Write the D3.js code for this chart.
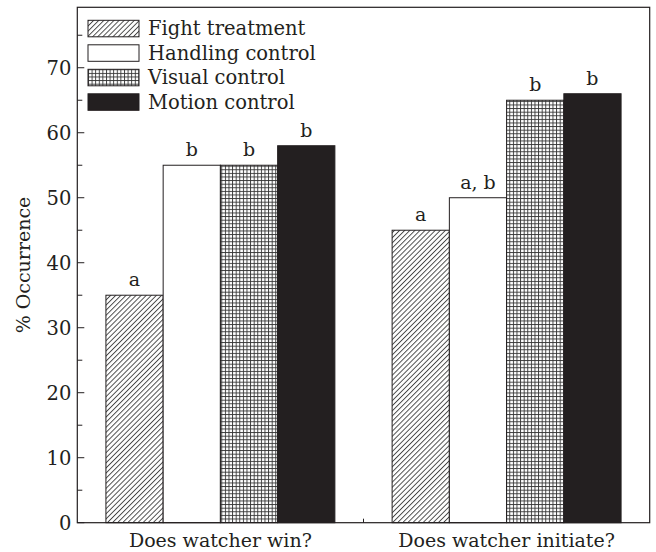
<!DOCTYPE html>
<html>
<head>
<meta charset="utf-8">
<script src="https://cdn.jsdelivr.net/npm/d3@7"></script>
<style>
  body { margin: 0; background: #fff; }
  text { font-family: "DejaVu Serif", "Liberation Serif", serif; fill: #231f20; }
</style>
</head>
<body>
<div id="chart"></div>
<script>
// data
const groups = ['Does watcher win?', 'Does watcher initiate?'];
const seriesNames = ['Fight treatment', 'Handling control', 'Visual control', 'Motion control'];
const fightValues = [35, 45];
const handlingValues = [55, 50];
const visualValues = [55, 65];
const motionValues = [58, 66];
const fightLetters = ['a', 'a'];
const handlingLetters = ['b', 'a, b'];
const visualLetters = ['b', 'b'];
const motionLetters = ['b', 'b'];
const yTicks = [0, 10, 20, 30, 40, 50, 60, 70];

const width = 656;
const height = 552;
const margin = {top: 7.3, right: 6.3, bottom: 29.3, left: 77.3};
const innerW = width - margin.left - margin.right;
const innerH = height - margin.top - margin.bottom;
const ink = '#231f20';

const seriesValues = [fightValues, handlingValues, visualValues, motionValues];
const seriesLetters = [fightLetters, handlingLetters, visualLetters, motionLetters];
const fills = ['url(#hatch)', '#fff', 'url(#grid)', ink];

let svg = d3.select('#chart')
  .append('svg')
  .attr('width', width)
  .attr('height', height);

// fill patterns
let defs = svg.append('defs');
let hatch = defs.append('pattern')
  .attr('id', 'hatch')
  .attr('patternUnits', 'userSpaceOnUse')
  .attr('width', 3.6)
  .attr('height', 10)
  .attr('patternTransform', 'rotate(45)');
hatch.append('rect').attr('width', 3.6).attr('height', 10).attr('fill', '#fff');
hatch.append('line')
  .attr('x1', 0.5).attr('x2', 0.5).attr('y1', 0).attr('y2', 10)
  .attr('stroke', '#333').attr('stroke-width', 0.9);

let grid = defs.append('pattern')
  .attr('id', 'grid')
  .attr('patternUnits', 'userSpaceOnUse')
  .attr('width', 3.6)
  .attr('height', 3.6);
grid.append('rect').attr('width', 3.6).attr('height', 3.6).attr('fill', '#fff');
grid.append('path')
  .attr('d', 'M0,0.5H3.6M0.5,0V3.6')
  .attr('stroke', '#333').attr('stroke-width', 0.9);

let g = svg.append('g')
  .attr('transform', `translate(${margin.left},${margin.top})`);

let x0 = d3.scaleBand().domain(groups).range([0, innerW]).paddingInner(0.2).paddingOuter(0.1);
let x1 = d3.scaleBand().domain(seriesNames).range([0, x0.bandwidth()]);
let y = d3.scaleLinear().domain([0, 79.3]).range([innerH, 0]);

// bars
seriesNames.forEach((name, si) => {
  let bars = g.append('g');
  bars.selectAll('rect')
    .data(groups)
    .enter()
    .append('rect')
    .attr('x', (d) => x0(d) + x1(name))
    .attr('y', (d, gi) => y(seriesValues[si][gi]))
    .attr('width', x1.bandwidth())
    .attr('height', (d, gi) => innerH - y(seriesValues[si][gi]))
    .attr('fill', fills[si])
    .attr('stroke', ink)
    .attr('stroke-width', 1);

  bars.selectAll('text')
    .data(groups)
    .enter()
    .append('text')
    .attr('x', (d) => x0(d) + x1(name) + x1.bandwidth() / 2)
    .attr('y', (d, gi) => y(seriesValues[si][gi]) - 9)
    .attr('text-anchor', 'middle')
    .style('font-size', '19px')
    .text((d, gi) => seriesLetters[si][gi]);
});

// frame
g.append('rect')
  .attr('width', innerW)
  .attr('height', innerH)
  .attr('fill', 'none')
  .attr('stroke', ink)
  .attr('stroke-width', 1.2);

// y axis: inward ticks, minor at fives
let yAxis = g.append('g');
yAxis.selectAll('.major')
  .data(yTicks)
  .enter()
  .append('line')
  .attr('x1', 0).attr('x2', 7)
  .attr('y1', (d) => y(d)).attr('y2', (d) => y(d))
  .attr('stroke', ink);
yAxis.selectAll('.minor')
  .data(yTicks.map((d) => d + 5))
  .enter()
  .append('line')
  .attr('x1', 0).attr('x2', 5)
  .attr('y1', (d) => y(d)).attr('y2', (d) => y(d))
  .attr('stroke', ink);
yAxis.selectAll('text')
  .data(yTicks)
  .enter()
  .append('text')
  .attr('x', -6)
  .attr('y', (d) => y(d))
  .attr('dy', '0.36em')
  .attr('text-anchor', 'end')
  .style('font-size', '19.5px')
  .text((d) => d);

g.append('text')
  .attr('transform', `translate(${-47},${innerH / 2}) rotate(-90)`)
  .attr('text-anchor', 'middle')
  .style('font-size', '19px')
  .text('% Occurrence');

// x axis: tick between the groups, labels under each group
g.append('line')
  .attr('x1', innerW / 2).attr('x2', innerW / 2)
  .attr('y1', innerH).attr('y2', innerH - 4)
  .attr('stroke', ink);
g.selectAll('.xlabel')
  .data(groups)
  .enter()
  .append('text')
  .attr('x', (d) => x0(d) + x0.bandwidth() / 2)
  .attr('y', innerH + 24)
  .attr('text-anchor', 'middle')
  .style('font-size', '19px')
  .text((d) => d);

// legend
let legend = g.append('g').attr('transform', 'translate(10.7,13)');
let rows = legend.selectAll('g')
  .data(seriesNames)
  .enter()
  .append('g')
  .attr('transform', (d, i) => `translate(0,${i * 24.5})`);
rows.append('rect')
  .attr('width', 51)
  .attr('height', 16.5)
  .attr('fill', (d, i) => fills[i])
  .attr('stroke', ink)
  .attr('stroke-width', 1);
rows.append('text')
  .attr('x', 60)
  .attr('y', 15)
  .style('font-size', '19.5px')
  .text((d) => d);
</script>
</body>
</html>
